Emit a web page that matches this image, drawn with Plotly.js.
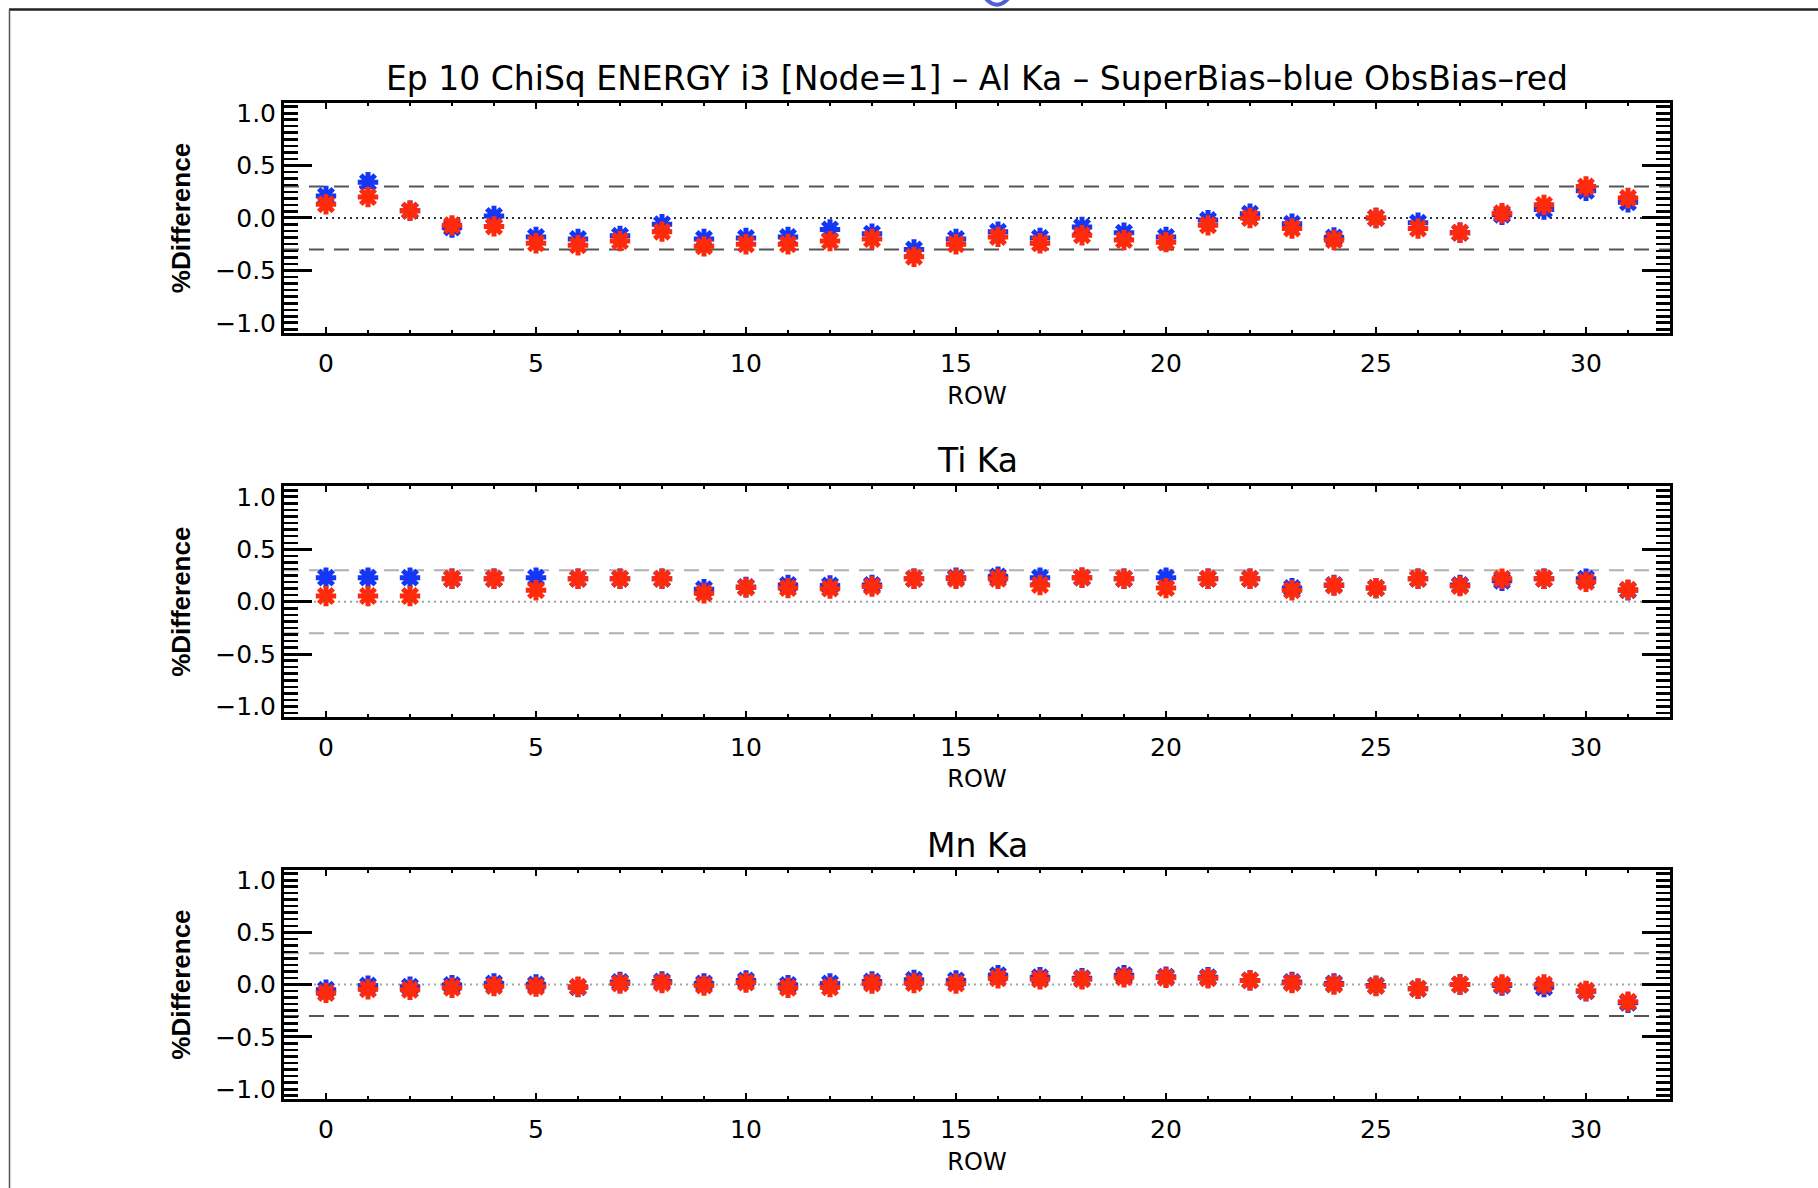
<!DOCTYPE html>
<html>
<head>
<meta charset="utf-8">
<script src="https://cdn.plot.ly/plotly-3.0.1.min.js"></script>
<style>
  html, body { margin: 0; padding: 0; background: #ffffff; }
  #plot { width: 1818px; height: 1188px; }
</style>
</head>
<body>
<div id="plot"></div>
<script>
// ---------------- data ----------------
const rows = [0, 1, 2, 3, 4, 5, 6, 7, 8, 9, 10, 11, 12, 13, 14, 15,
              16, 17, 18, 19, 20, 21, 22, 23, 24, 25, 26, 27, 28, 29, 30, 31];

const alSuperBias = [0.21, 0.34, 0.07, -0.09, 0.02, -0.18, -0.20, -0.17, -0.06, -0.20, -0.19, -0.18, -0.11, -0.15, -0.30, -0.20,
                     -0.13, -0.19, -0.085, -0.14, -0.18, -0.02, 0.04, -0.055, -0.185, 0.00, -0.045, -0.14, 0.03, 0.08, 0.26, 0.15];
const alObsBias   = [0.13, 0.20, 0.07, -0.07, -0.08, -0.24, -0.26, -0.22, -0.13, -0.27, -0.25, -0.25, -0.22, -0.20, -0.37, -0.25,
                     -0.18, -0.24, -0.165, -0.21, -0.23, -0.07, 0.00, -0.10, -0.21, 0.00, -0.10, -0.14, 0.045, 0.125, 0.30, 0.19];

const tiSuperBias = [0.23, 0.23, 0.23, 0.22, 0.22, 0.23, 0.22, 0.22, 0.22, 0.12, 0.14, 0.16, 0.155, 0.16, 0.22, 0.23,
                     0.24, 0.23, 0.23, 0.22, 0.23, 0.22, 0.22, 0.13, 0.16, 0.13, 0.22, 0.16, 0.20, 0.22, 0.22, 0.11];
const tiObsBias   = [0.055, 0.055, 0.055, 0.22, 0.22, 0.11, 0.22, 0.22, 0.22, 0.08, 0.135, 0.13, 0.125, 0.145, 0.22, 0.22,
                     0.22, 0.16, 0.23, 0.22, 0.13, 0.22, 0.22, 0.11, 0.155, 0.13, 0.22, 0.15, 0.22, 0.22, 0.19, 0.115];

const mnSuperBias = [-0.05, -0.01, -0.02, -0.005, 0.01, 0.00, -0.025, 0.025, 0.03, 0.01, 0.04, -0.005, 0.01, 0.03, 0.045, 0.04,
                     0.09, 0.07, 0.06, 0.09, 0.075, 0.07, 0.04, 0.025, 0.01, -0.01, -0.04, 0.00, -0.01, -0.025, -0.065, -0.175];
const mnObsBias   = [-0.08, -0.045, -0.05, -0.03, -0.015, -0.02, -0.02, 0.01, 0.015, -0.01, 0.02, -0.03, -0.025, 0.01, 0.015, 0.01,
                     0.06, 0.05, 0.05, 0.07, 0.065, 0.06, 0.04, 0.015, 0.00, -0.015, -0.04, 0.00, 0.00, 0.00, -0.06, -0.165];

const yTickVals  = [-1.0, -0.5, 0.0, 0.5, 1.0];
const yTickText  = ['\u22121.0', '\u22120.5', '0.0', '0.5', '1.0'];
const yLongTicks = [-0.5, 0.0, 0.5];
const xTickVals  = [0, 5, 10, 15, 20, 25, 30];
const limitLevel = 0.3;   // dashed reference lines at +/- this value

const mainTitle = 'Ep 10 ChiSq ENERGY i3 [Node=1] \u2013 Al Ka \u2013 SuperBias\u2013blue ObsBias\u2013red';
const panelTitles = ['Ti Ka', 'Mn Ka'];
// --------------------------------------

const BLUE = '#1436f5';
const RED = '#ff2a0c';
const DARK = '#555555';
const LIGHT = '#b0b0b0';
const FONT = 'DejaVu Sans, Verdana, sans-serif';

const panels = [
  {sb: alSuperBias, ob: alObsBias, xa: 'x',  ya: 'y',  yo: 'y4', dom: [0.7193, 0.9137], upC: DARK,  loC: DARK, zC: '#333333'},
  {sb: tiSuperBias, ob: tiObsBias, xa: 'x2', ya: 'y2', yo: 'y5', dom: [0.3965, 0.5905], upC: LIGHT, loC: LIGHT, zC: '#a0a0a0'},
  {sb: mnSuperBias, ob: mnObsBias, xa: 'x3', ya: 'y3', yo: 'y6', dom: [0.0745, 0.2680], upC: LIGHT, loC: DARK, zC: '#a0a8a0'}
];

const traces = [];
const markerBase = {symbol: 'asterisk-open', size: 17};
panels.forEach(p => {
  traces.push({type: 'scatter', mode: 'markers', x: rows, y: p.sb, xaxis: p.xa, yaxis: p.ya,
               name: 'SuperBias', showlegend: false,
               marker: Object.assign({}, markerBase, {color: BLUE, line: {color: BLUE, width: 5}})});
  traces.push({type: 'scatter', mode: 'markers', x: rows, y: p.ob, xaxis: p.xa, yaxis: p.ya,
               name: 'ObsBias', showlegend: false,
               marker: Object.assign({}, markerBase, {color: RED, line: {color: RED, width: 5}})});
  traces.push({type: 'scatter', mode: 'markers', x: [], y: [], xaxis: p.xa, yaxis: p.yo,
               showlegend: false, hoverinfo: 'skip'});
});

const XDOM = [284 / 1818, 1670 / 1818];

function xAxis(anchor) {
  return {
    domain: XDOM, anchor: anchor, range: [-1, 32],
    tickmode: 'array', tickvals: xTickVals,
    ticks: 'inside', ticklen: 6, tickwidth: 2.5, tickcolor: '#000',
    minor: {ticks: 'inside', ticklen: 3, tickwidth: 2, tickcolor: '#000', dtick: 1, tick0: 0, showgrid: false},
    showline: true, linewidth: 3, linecolor: '#000', mirror: 'ticks',
    showgrid: false, zeroline: false,
    tickfont: {family: FONT, size: 25, color: '#000'},
    ticklabelstandoff: 6,
    title: {text: 'ROW', font: {family: FONT, size: 24, color: '#000'}, standoff: 10}
  };
}
function yAxis(anchor, dom) {
  return {
    domain: dom, anchor: anchor, range: [-1.1, 1.1],
    tickmode: 'array', tickvals: yTickVals, ticktext: yTickText,
    ticks: 'inside', ticklen: 14, tickwidth: 3, tickcolor: '#000',
    minor: {ticks: 'inside', ticklen: 14, tickwidth: 2.5, tickcolor: '#000', dtick: 0.0625, tick0: 0, showgrid: false},
    showline: true, linewidth: 3, linecolor: '#000', mirror: 'ticks',
    showgrid: false, zeroline: false,
    tickfont: {family: FONT, size: 25, color: '#000'},
    ticklabelstandoff: 0,
    title: {text: '%Difference', font: {family: 'Liberation Sans, Arial, sans-serif', size: 26, color: '#000', weight: 'bold'}, standoff: 18}
  };
}
function yOverlay(over, anchor) {
  return {
    overlaying: over, anchor: anchor, range: [-1.1, 1.1],
    tickmode: 'array', tickvals: yLongTicks,
    ticks: 'inside', ticklen: 28, tickwidth: 3, tickcolor: '#000',
    showticklabels: false, showline: false, mirror: 'ticks',
    showgrid: false, zeroline: false
  };
}

const shapes = [];
panels.forEach(p => {
  shapes.push({type: 'line', xref: p.xa + ' domain', yref: p.ya, x0: 0, x1: 1, y0: limitLevel, y1: limitLevel,
               line: {color: p.upC, width: 2, dash: '15px,10px'}, layer: 'below'});
  shapes.push({type: 'line', xref: p.xa + ' domain', yref: p.ya, x0: 0, x1: 1, y0: -limitLevel, y1: -limitLevel,
               line: {color: p.loC, width: 2, dash: '15px,10px'}, layer: 'below'});
  shapes.push({type: 'line', xref: p.xa + ' domain', yref: p.ya, x0: 0, x1: 1, y0: 0, y1: 0,
               line: {color: p.zC, width: 2, dash: '2px,4px'}, layer: 'below'});
});
// page frame (slide border) and clipped fragment at the top edge
shapes.push({type: 'line', xref: 'paper', yref: 'paper', x0: 9 / 1818, x1: 1, y0: 1 - 9.5 / 1188, y1: 1 - 9.5 / 1188,
             line: {color: '#222222', width: 2.5}});
shapes.push({type: 'line', xref: 'paper', yref: 'paper', x0: 9.5 / 1818, x1: 9.5 / 1818, y0: 0, y1: 1 - 9.5 / 1188,
             line: {color: '#555555', width: 1.5}});
shapes.push({type: 'path', xref: 'paper', yref: 'paper',
             path: 'M 0.5418,1.002 Q 0.5484,0.990 0.5550,1.002', line: {color: '#4f5fd8', width: 4}});

const layout = {
  width: 1818, height: 1188,
  margin: {l: 0, r: 0, t: 0, b: 0},
  paper_bgcolor: '#ffffff', plot_bgcolor: '#ffffff',
  showlegend: false,
  title: {text: mainTitle, font: {family: FONT, size: 33, color: '#000'},
          x: 977 / 1818, xanchor: 'center', xref: 'paper', y: 1 - 78 / 1188, yanchor: 'middle', yref: 'container'},
  xaxis: xAxis('y'), xaxis2: xAxis('y2'), xaxis3: xAxis('y3'),
  yaxis: yAxis('x', panels[0].dom), yaxis2: yAxis('x2', panels[1].dom), yaxis3: yAxis('x3', panels[2].dom),
  yaxis4: yOverlay('y', 'x'), yaxis5: yOverlay('y2', 'x2'), yaxis6: yOverlay('y3', 'x3'),
  shapes: shapes,
  annotations: [
    {text: panelTitles[0], xref: 'paper', yref: 'paper', x: 977 / 1818, y: 1 - 461 / 1188, xanchor: 'center', yanchor: 'middle',
     showarrow: false, font: {family: FONT, size: 33, color: '#000'}},
    {text: panelTitles[1], xref: 'paper', yref: 'paper', x: 977 / 1818, y: 1 - 845 / 1188, xanchor: 'center', yanchor: 'middle',
     showarrow: false, font: {family: FONT, size: 33, color: '#000'}}
  ]
};

Plotly.newPlot('plot', traces, layout, {staticPlot: true, displayModeBar: false});
</script>
</body>
</html>
